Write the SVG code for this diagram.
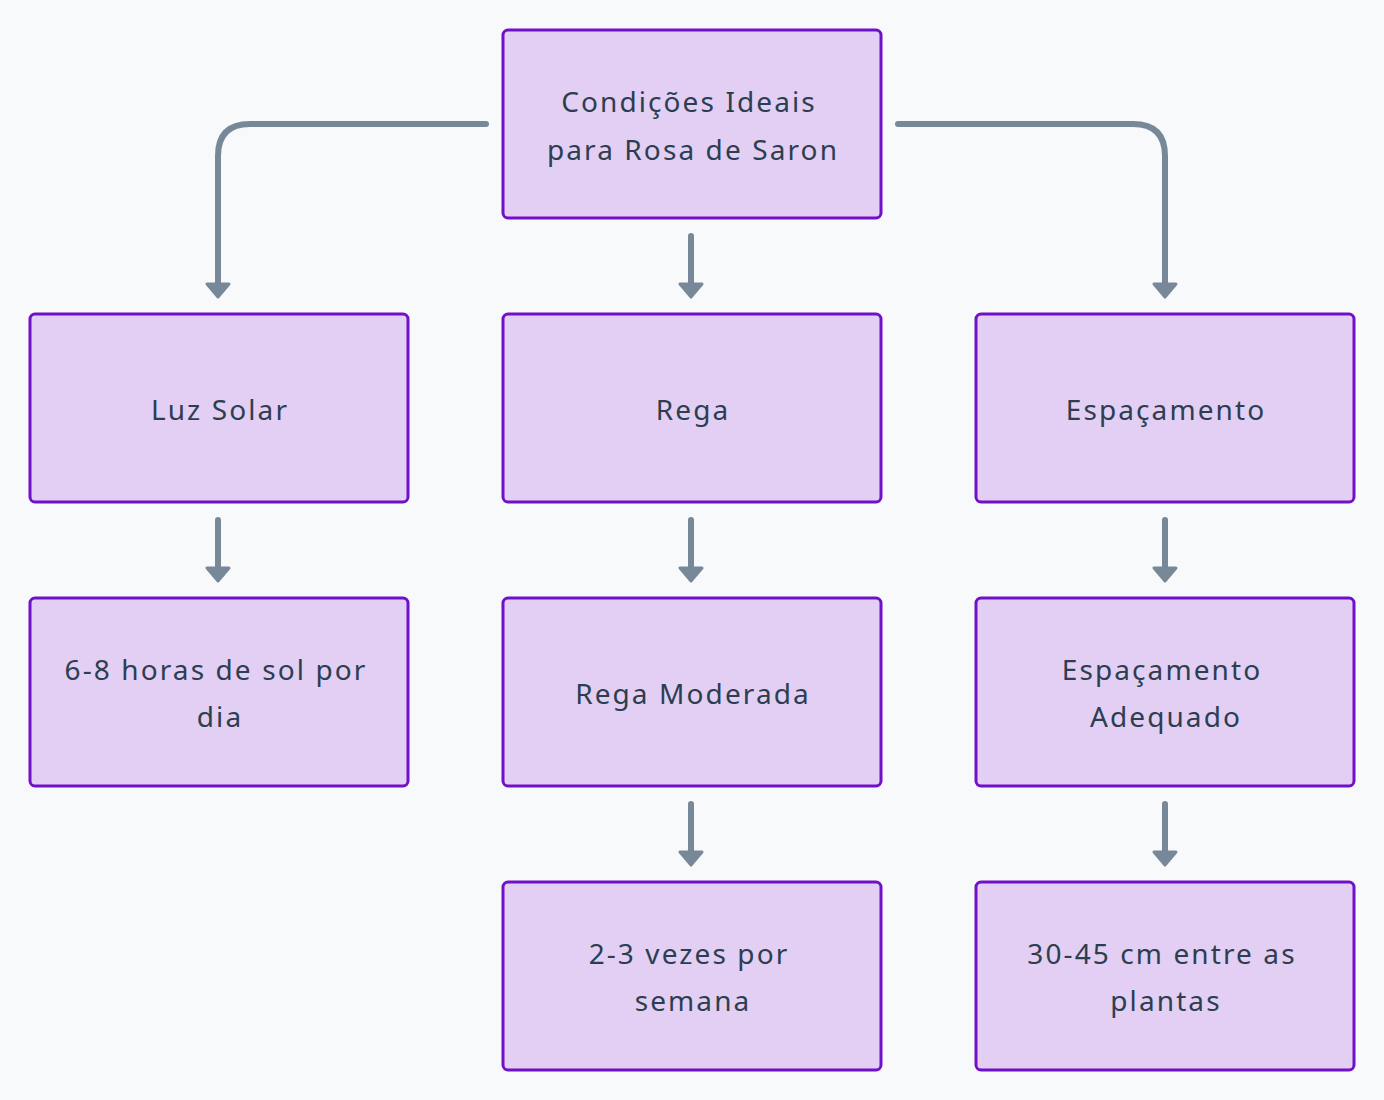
<svg xmlns="http://www.w3.org/2000/svg" width="1384" height="1100" viewBox="0 0 1384 1100">
<defs>
<style>
.node rect{fill:#e2cff3;stroke:#7010c8;stroke-width:3}
.node text{font-family:"Noto Sans","DejaVu Sans",sans-serif;font-size:28px;fill:#2c3e50;text-anchor:middle;letter-spacing:2.1px}
.edge{fill:none;stroke:#778899;stroke-width:6;stroke-linecap:round;stroke-linejoin:round}
.head{fill:#778899;stroke:#778899;stroke-width:3;stroke-linejoin:round}
</style>
</defs>
<rect width="1384" height="1100" fill="#f8f9fa"/>
<g id="connectors">
<path class="edge" d="M486 124 H250 Q218 124 218 156 V284"/>
<polygon class="head" points="207,284 229,284 218,297"/>
<path class="edge" d="M898 124 H1133 Q1165 124 1165 156 V284"/>
<polygon class="head" points="1154,284 1176,284 1165,297"/>
<path class="edge" d="M691 236 V284"/>
<polygon class="head" points="680,284 702,284 691,297"/>
<path class="edge" d="M218 520 V568"/>
<polygon class="head" points="207,568 229,568 218,581"/>
<path class="edge" d="M691 520 V568"/>
<polygon class="head" points="680,568 702,568 691,581"/>
<path class="edge" d="M1165 520 V568"/>
<polygon class="head" points="1154,568 1176,568 1165,581"/>
<path class="edge" d="M691 804 V852"/>
<polygon class="head" points="680,852 702,852 691,865"/>
<path class="edge" d="M1165 804 V852"/>
<polygon class="head" points="1154,852 1176,852 1165,865"/>
</g>
<g id="n_root" class="node"><rect x="503" y="30" width="378" height="188" rx="5"/><text x="689" y="112">Condições Ideais</text><text x="693" y="160">para Rosa de Saron</text></g>
<g id="n_luz" class="node"><rect x="30" y="314" width="378" height="188" rx="5"/><text x="220" y="420">Luz Solar</text></g>
<g id="n_rega" class="node"><rect x="503" y="314" width="378" height="188" rx="5"/><text x="693" y="420">Rega</text></g>
<g id="n_esp" class="node"><rect x="976" y="314" width="378" height="188" rx="5"/><text x="1166" y="420">Espaçamento</text></g>
<g id="n_sol" class="node"><rect x="30" y="598" width="378" height="188" rx="5"/><text x="216" y="680">6-8 horas de sol por</text><text x="220" y="727">dia</text></g>
<g id="n_regamod" class="node"><rect x="503" y="598" width="378" height="188" rx="5"/><text x="693" y="704">Rega Moderada</text></g>
<g id="n_espadq" class="node"><rect x="976" y="598" width="378" height="188" rx="5"/><text x="1162" y="680">Espaçamento</text><text x="1166" y="727">Adequado</text></g>
<g id="n_vezes" class="node"><rect x="503" y="882" width="378" height="188" rx="5"/><text x="689" y="964">2-3 vezes por</text><text x="693" y="1011">semana</text></g>
<g id="n_plantas" class="node"><rect x="976" y="882" width="378" height="188" rx="5"/><text x="1162" y="964">30-45 cm entre as</text><text x="1166" y="1011">plantas</text></g>
</svg>
